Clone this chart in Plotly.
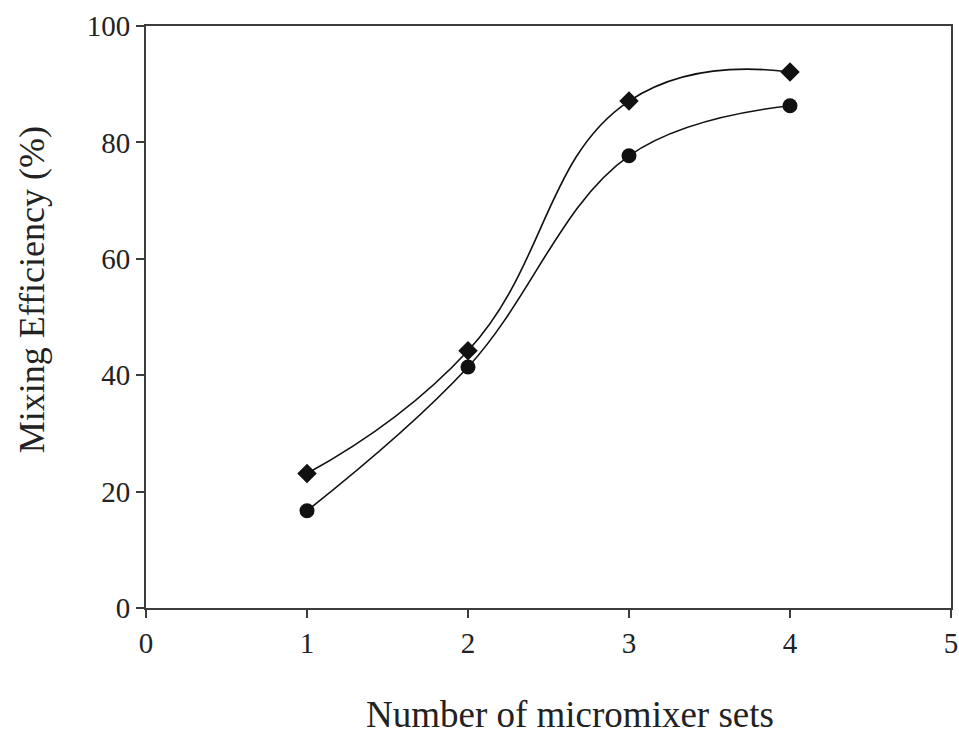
import plotly.graph_objects as go

# Number of micromixer sets and the measured mixing efficiency (%)
sets = [1, 2, 3, 4]
efficiency_diamond = [23.1, 44.2, 87.1, 92.1]
efficiency_circle = [16.7, 41.4, 77.7, 86.3]

x_ticks = [0, 1, 2, 3, 4, 5]
y_ticks = [0, 20, 40, 60, 80, 100]

axis_color = "#3c3c3c"
mark_color = "#111111"
font_family = "Liberation Serif, Times New Roman, serif"

fig = go.Figure()

fig.add_trace(go.Scatter(
    x=sets, y=efficiency_diamond, mode="lines+markers",
    line=dict(color=mark_color, width=1.6, shape="spline", smoothing=1.3),
    marker=dict(symbol="diamond", size=15, color=mark_color),
    showlegend=False, cliponaxis=False,
))
fig.add_trace(go.Scatter(
    x=sets, y=efficiency_circle, mode="lines+markers",
    line=dict(color=mark_color, width=1.6, shape="spline", smoothing=1.1),
    marker=dict(symbol="circle", size=15, color=mark_color),
    showlegend=False, cliponaxis=False,
))

axis_common = dict(
    showgrid=False, zeroline=False, automargin=False,
    showline=True, linecolor=axis_color, linewidth=2, mirror=True,
    ticks="outside", ticklen=8, tickwidth=2, tickcolor=axis_color,
    tickfont=dict(family=font_family, size=29, color="#222222"),
)

fig.update_xaxes(range=[0, 5], tickvals=x_ticks, ticktext=[str(v) for v in x_ticks],
                 **axis_common)
fig.update_yaxes(range=[0, 100], tickvals=y_ticks, ticktext=[str(v) for v in y_ticks],
                 **axis_common)

fig.add_annotation(
    text="Number of micromixer sets", xref="paper", yref="paper",
    x=0.527, y=0, yshift=-84, xanchor="center", yanchor="top", showarrow=False,
    font=dict(family=font_family, size=37, color="#222222"),
)
fig.add_annotation(
    text="Mixing Efficiency (%)", xref="paper", yref="paper",
    x=0, xshift=-114, y=0.546, xanchor="center", yanchor="middle", showarrow=False,
    textangle=-90,
    font=dict(family=font_family, size=36, color="#222222"),
)

fig.update_layout(
    width=959, height=735,
    margin=dict(l=146, r=8, t=26, b=127),
    plot_bgcolor="white", paper_bgcolor="white",
)

fig.write_html("out.html")
